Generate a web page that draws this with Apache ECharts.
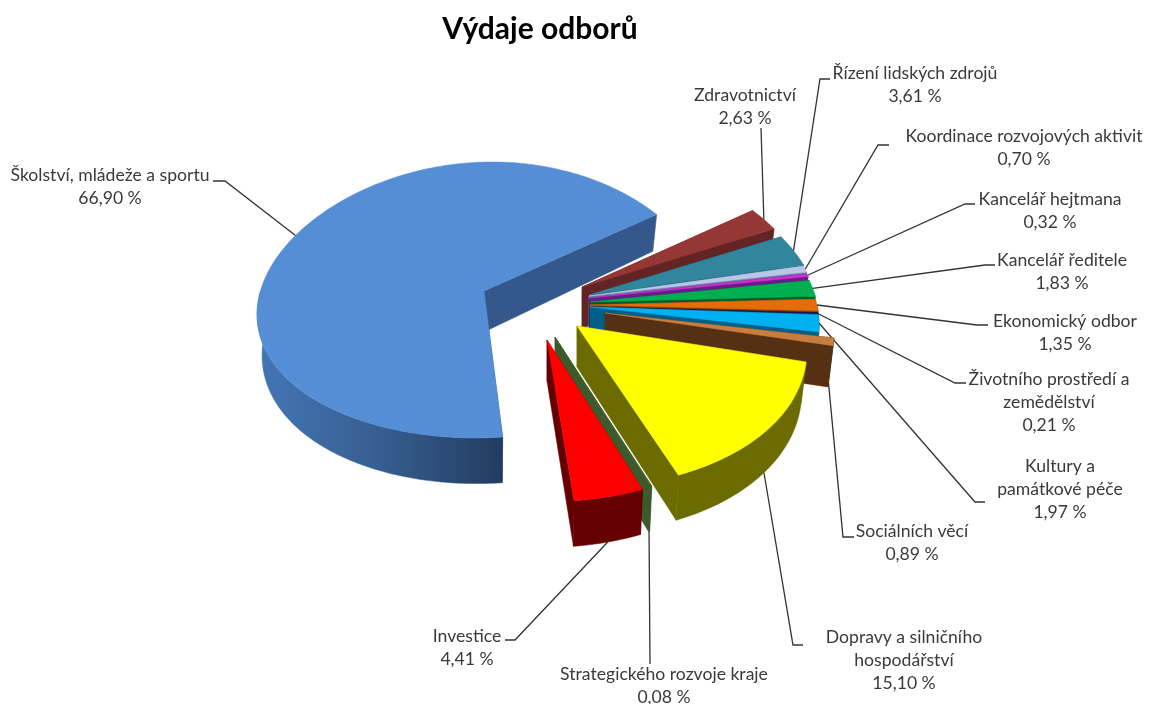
<!DOCTYPE html>
<html>
<head>
<meta charset="utf-8">
<title>Výdaje odborů</title>
<style>
  html, body { margin: 0; background: #fff; }
  #chart { width: 1155px; height: 704px; }
</style>
</head>
<body>
<div id="chart"></div>
<script src="https://cdn.jsdelivr.net/npm/echarts@6/dist/echarts.min.js"></script>
<script>
  // data
  var categories = ['Školství, mládeže a sportu', 'Zdravotnictví', 'Řízení lidských zdrojů', 'Koordinace rozvojových aktivit',
    'Kancelář hejtmana', 'Kancelář ředitele', 'Ekonomický odbor', 'Životního prostředí a zemědělství',
    'Kultury a památkové péče', 'Sociálních věcí', 'Dopravy a silničního hospodářství', 'Strategického rozvoje kraje', 'Investice'];
  var values = [66.90, 2.63, 3.61, 0.70, 0.32, 1.83, 1.35, 0.21, 1.97, 0.89, 15.10, 0.08, 4.41];

  // styles
  var topColors = ['#558ed5', '#953735', '#31859c', '#b9c7e6', '#cc33cc', '#00b050', '#e46c0a', '#002060', '#00b0f0', '#c77d3f', '#ffff00', '#4f6228', '#ff0000'];
  var wallColors = ['#34588b', '#632523', '#1c5566', '#6f7ea8', '#6a1a8a', '#005c2a', '#7a3a08', '#001540', '#005f87', '#553013', '#6b6b00', '#3d5a2c', '#640000'];

  // where each slice sits after the explosion: apex, scale x, scale y, sideways lean
  var apexes = [[484, 291], [582, 287], [589, 295], [589, 296], [589, 298], [590, 302], [590, 305], [590, 307], [590, 307], [605, 313], [577, 326], [555, 337], [547, 340]];
  var scaleX = [0.985, 1, 1, 1, 1, 1, 1, 1, 1, 1, 1, 1, 1];
  var scaleY = [1, 1, 1, 1, 1, 1, 1, 1, 1, 1, 1.1, 1.1, 1.1];
  var lean = [8, 0, 0, 0, 0, 0, 0, 0, 0, 0, -5, 0, 0];

  // label lines from the slice outwards, and the label text blocks
  var leaderPaths = [
    [[225, 181], [213, 181]], [[761, 128]], [[820, 79], [830, 79]], [[878, 145], [889, 145]], [[965, 204], [975, 204]],
    [[985, 265], [995, 265]], [[977, 325], [988, 325]], [[955, 383], [966, 383]], [[975, 502], [985, 502]],
    [[843, 537], [854, 537]], [[793, 645], [803, 645]], [[650, 664]], [[515, 640], [505, 640]]
  ];
  var labelLines = [
    ['Školství, mládeže a sportu'], ['Zdravotnictví'], ['Řízení lidských zdrojů'], ['Koordinace rozvojových aktivit'],
    ['Kancelář hejtmana'], ['Kancelář ředitele'], ['Ekonomický odbor'], ['Životního prostředí a', 'zemědělství'],
    ['Kultury a', 'památkové péče'], ['Sociálních věcí'], ['Dopravy a silničního', 'hospodářství'], ['Strategického rozvoje kraje'], ['Investice']
  ];
  var labelPos = [[110, 175], [745, 95], [915, 73], [1024, 136], [1050, 199], [1062, 260], [1065, 321], [1049, 379], [1060, 466], [912, 531], [904, 637], [664, 674], [467, 636]];

  var START_ANGLE = 84;
  var RX = 227, RY = 138, DEPTH = 40;
  var LINE_H = 23.3;

  var angles = [];
  var sum = 0;
  values.forEach(function (v) {
    angles.push([START_ANGLE + sum * 3.6, START_ANGLE + (sum + v) * 3.6]);
    sum += v;
  });

  // point on the rim of slice i, with a little perspective (front is nearer)
  function rim(i, deg) {
    var t = deg * Math.PI / 180, s = Math.sin(t), c = Math.cos(t);
    return [
      apexes[i][0] + c * RX * (1 + 0.14 * s) * scaleX[i] - lean[i] * s,
      apexes[i][1] + s * RY * (1 + 0.065 * s) * scaleY[i]
    ];
  }

  // same rim on the underside: lower and slightly narrower
  function rimBottom(i, deg) {
    var p = rim(i, deg);
    var s = Math.sin(deg * Math.PI / 180);
    return [p[0] - 0.022 * (p[0] - apexes[i][0]), p[1] + DEPTH * (1 + 0.14 * s)];
  }

  function sweep(a, b) {
    var list = [], n = Math.max(2, Math.ceil(Math.abs(b - a)));
    for (var k = 0; k <= n; k++) {
      list.push(a + (b - a) * k / n);
    }
    return list;
  }

  function poly(points, fill) {
    return { type: 'polygon', shape: { points: points }, style: { fill: fill, stroke: fill, lineWidth: 0.5 } };
  }

  function renderSlice(params, api) {
    var i = params.dataIndex;
    var a = angles[i][0], b = angles[i][1];
    var apex = apexes[i];
    var apexBottom = [apex[0], apex[1] + DEPTH + 1];
    var degs = sweep(a, b);
    var children = [];

    // side walls
    [a, b].forEach(function (deg) {
      children.push(poly([apex, rim(i, deg), rimBottom(i, deg), apexBottom], wallColors[i]));
    });

    // outer wall, only the part that faces the viewer
    var front = degs.filter(function (deg) { return Math.sin(deg * Math.PI / 180) >= 0; });
    if (front.length > 1) {
      var fill = wallColors[i];
      if (i === 0) {
        fill = new echarts.graphic.LinearGradient(0, 0, 1, 0, [
          { offset: 0, color: '#4476b5' }, { offset: 0.5, color: '#365e90' }, { offset: 1, color: '#223c60' }
        ]);
      }
      var upper = front.map(function (deg) { return rim(i, deg); });
      var lower = front.slice().reverse().map(function (deg) { return rimBottom(i, deg); });
      children.push(poly(upper.concat(lower), fill));
    }

    // top
    children.push(poly([apex].concat(degs.map(function (deg) { return rim(i, deg); })), topColors[i]));

    // leader
    var mid = (a + b) / 2;
    var from = Math.sin(mid * Math.PI / 180) > 0.15 ? rimBottom(i, mid) : rim(i, mid);
    children.push({
      type: 'polyline',
      shape: { points: [from].concat(leaderPaths[i]) },
      style: { fill: null, stroke: '#333', lineWidth: 1.3 }
    });

    // label
    var lines = labelLines[i].concat([api.value(0).toFixed(2).replace('.', ',') + ' %']);
    lines.forEach(function (txt, k) {
      children.push({
        type: 'text',
        style: {
          text: txt, x: labelPos[i][0], y: labelPos[i][1] + k * LINE_H,
          align: 'center', verticalAlign: 'middle',
          fill: '#3a3a3a', font: '17.6px Lato'
        }
      });
    });
    return { type: 'group', children: children };
  }

  var chart = echarts.init(document.getElementById('chart'), null, { renderer: 'canvas' });
  chart.setOption({
    animation: false,
    backgroundColor: '#fff',
    title: {
      text: 'Výdaje odborů', left: 535, top: 9, textAlign: 'center',
      textStyle: { fontFamily: 'Lato', fontWeight: 'bold', fontSize: 30, color: '#000' }
    },
    series: [{
      type: 'custom',
      coordinateSystem: 'none',
      renderItem: renderSlice,
      data: values,
      silent: true
    }]
  });
  window.addEventListener('resize', function () { chart.resize(); });
</script>
</body>
</html>
